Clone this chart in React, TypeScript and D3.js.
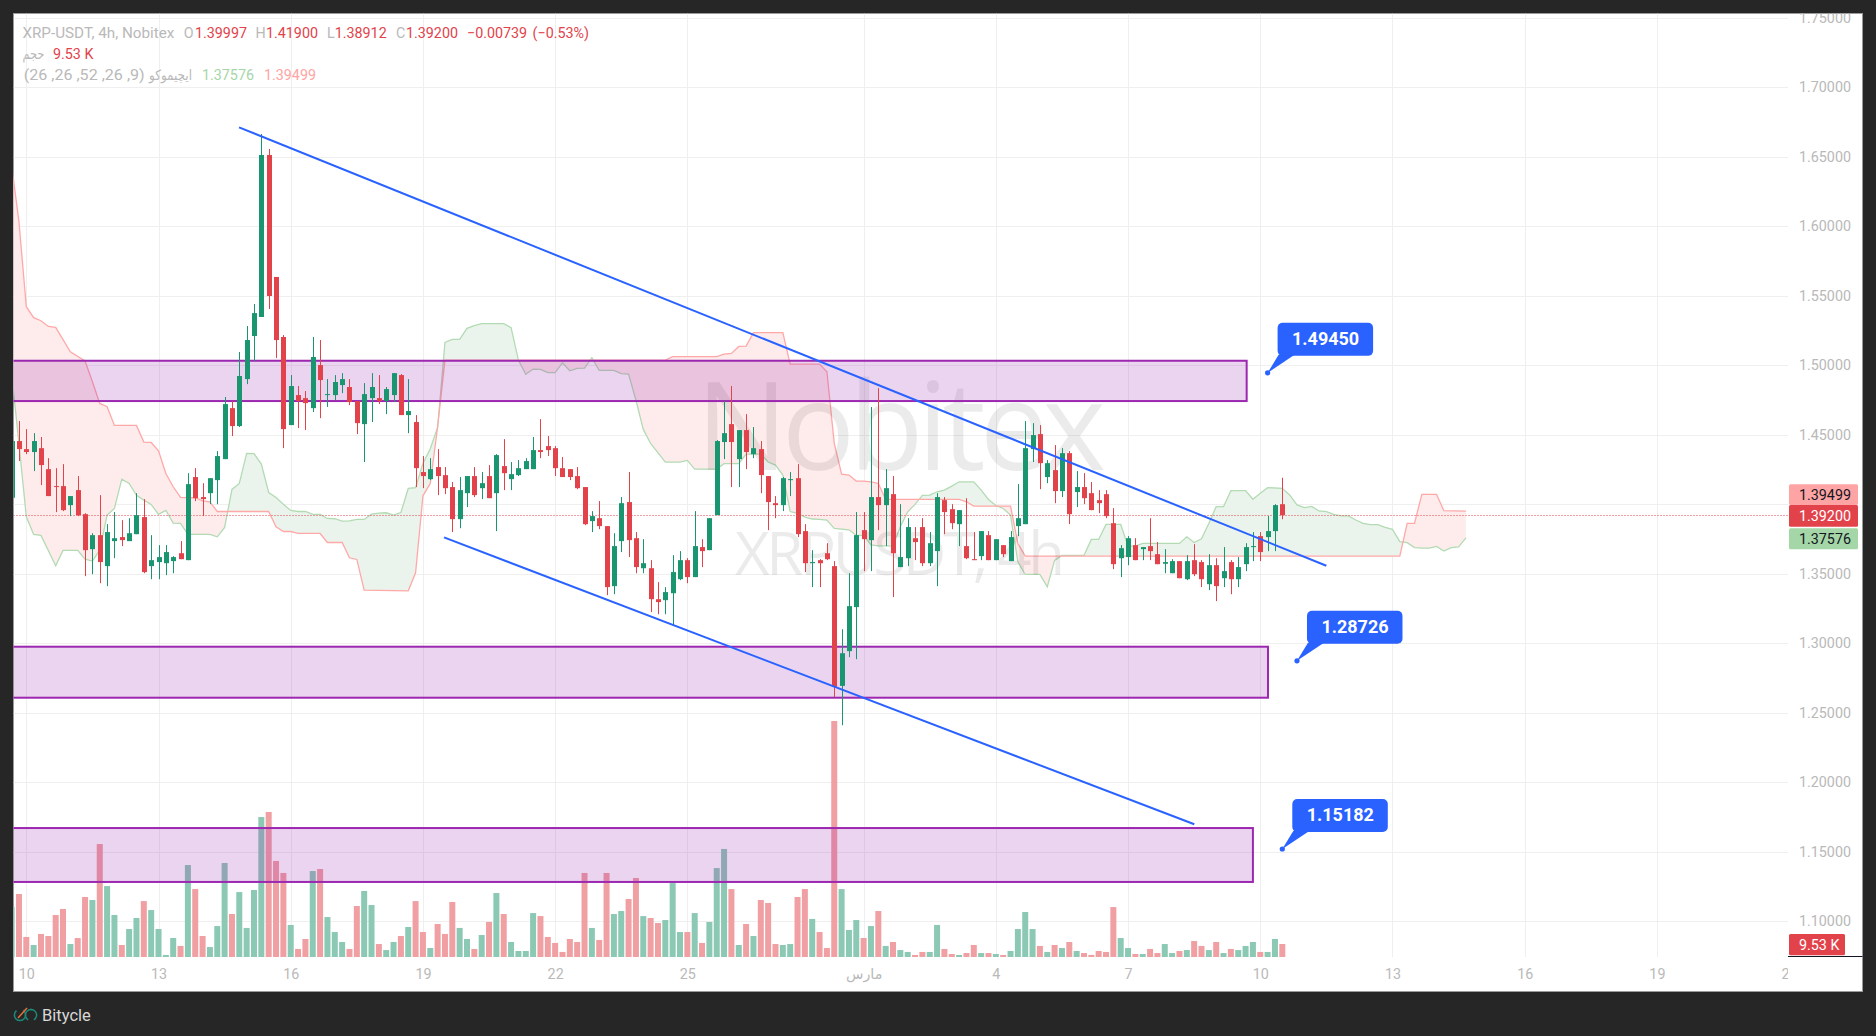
import * as React from 'react';
import { useEffect, useRef } from 'react';
import * as d3 from 'd3';

// candle index -2 is the partly hidden first bar, index 0 is Feb 10 00:00, one step is 4h
const firstIndex = -2;
const opens = [
  1.4046, 1.4454, 1.4396, 1.4375, 1.4403, 1.4252, 1.4130, 1.4130, 1.3993, 1.4101,
  1.3928, 1.3676, 1.3777, 1.3554, 1.3734, 1.3763, 1.3734, 1.3784, 1.3907, 1.3554,
  1.3583, 1.3575, 1.3590, 1.3647, 1.3597, 1.4195, 1.4051, 1.4079, 1.4173, 1.4324,
  1.4691, 1.4562, 1.4900, 1.5210, 1.5347, 1.6513, 1.5635, 1.5203, 1.4569, 1.4785,
  1.4763, 1.4691, 1.5001, 1.4785, 1.4785, 1.4857, 1.4843, 1.4742, 1.4576, 1.4763,
  1.4763, 1.4742, 1.4785, 1.4929, 1.4641, 1.4591, 1.4231, 1.4180, 1.4267, 1.4209,
  1.4123, 1.3892, 1.4079, 1.4202, 1.4115, 1.4202, 1.4079, 1.4274, 1.4180, 1.4209,
  1.4252, 1.4252, 1.4389, 1.4418, 1.4403, 1.4259, 1.4252, 1.4202, 1.4123, 1.3878,
  1.3899, 1.3842, 1.3410, 1.3734, 1.4015, 1.3755, 1.3539, 1.3539, 1.3316, 1.3309,
  1.3359, 1.3460, 1.3597, 1.3475, 1.3691, 1.3669, 1.3921, 1.4447, 1.4576, 1.4324,
  1.4533, 1.4360, 1.4396, 1.4202, 1.4007, 1.3993, 1.4173, 1.4187, 1.3806, 1.3575,
  1.3597, 1.3647, 1.3554, 1.2692, 1.2942, 1.3259, 1.3813, 1.3741, 1.4051, 1.3993,
  1.4072, 1.3547, 1.3611, 1.3755, 1.3835, 1.3575, 1.3662, 1.4029, 1.3964, 1.3856,
  1.3698, 1.3604, 1.3626, 1.3777, 1.3597, 1.3705, 1.3590, 1.3842, 1.3856, 1.4396,
  1.4504, 1.4195, 1.4245, 1.4094, 1.4367, 1.4087, 1.4123, 1.4079, 1.4029, 1.4072,
  1.3863, 1.3611, 1.3619, 1.3705, 1.3676, 1.3698, 1.3640, 1.3571, 1.3503, 1.3590,
  1.3460, 1.3597, 1.3583, 1.3424, 1.3561, 1.3467, 1.3583, 1.3460, 1.3568, 1.3691,
  1.3770, 1.3763, 1.3806, 1.39997,
];
const highs = [
  1.4454, 1.4598, 1.4540, 1.4511, 1.4483, 1.4331, 1.4259, 1.4288, 1.4058, 1.4202,
  1.3935, 1.3791, 1.4065, 1.3856, 1.3943, 1.3885, 1.3899, 1.4079, 1.4036, 1.3777,
  1.3705, 1.3705, 1.3626, 1.3734, 1.4223, 1.4259, 1.4151, 1.4187, 1.4382, 1.4771,
  1.4742, 1.5095, 1.5282, 1.5440, 1.6664, 1.6556, 1.5635, 1.5217, 1.4929, 1.4850,
  1.4814, 1.5203, 1.5181, 1.4900, 1.4929, 1.4943, 1.4900, 1.4742, 1.4871, 1.4943,
  1.4929, 1.4843, 1.4943, 1.4936, 1.4900, 1.4641, 1.4346, 1.4331, 1.4396, 1.4267,
  1.4159, 1.4195, 1.4202, 1.4267, 1.4231, 1.4281, 1.4360, 1.4468, 1.4303, 1.4317,
  1.4331, 1.4483, 1.4612, 1.4490, 1.4418, 1.4339, 1.4252, 1.4267, 1.4123, 1.3950,
  1.4022, 1.3842, 1.3791, 1.4051, 1.4231, 1.3799, 1.3748, 1.3597, 1.3439, 1.3403,
  1.3633, 1.3662, 1.3611, 1.3950, 1.3748, 1.3899, 1.4461, 1.4742, 1.4850, 1.4533,
  1.4648, 1.4555, 1.4454, 1.4202, 1.4058, 1.4195, 1.4231, 1.4288, 1.3856, 1.3669,
  1.3604, 1.3719, 1.3590, 1.3100, 1.3503, 1.3943, 1.3943, 1.4699, 1.4835, 1.4252,
  1.4202, 1.4000, 1.3899, 1.3835, 1.3899, 1.3799, 1.4079, 1.4051, 1.4000, 1.3957,
  1.4043, 1.3799, 1.3806, 1.3806, 1.3748, 1.3705, 1.3806, 1.4144, 1.4598, 1.4583,
  1.4569, 1.4317, 1.4425, 1.4403, 1.4382, 1.4238, 1.4223, 1.4159, 1.4101, 1.4101,
  1.3971, 1.3705, 1.3770, 1.3755, 1.3691, 1.3899, 1.3727, 1.3676, 1.3604, 1.3590,
  1.3633, 1.3712, 1.3597, 1.3640, 1.3611, 1.3691, 1.3597, 1.3619, 1.3719, 1.3799,
  1.3799, 1.3914, 1.4000, 1.41900,
];
const lows = [
  1.4046, 1.4310, 1.4360, 1.4238, 1.4137, 1.4058, 1.3943, 1.3950, 1.3914, 1.3914,
  1.3482, 1.3496, 1.3431, 1.3410, 1.3611, 1.3698, 1.3734, 1.3784, 1.3503, 1.3460,
  1.3460, 1.3489, 1.3503, 1.3604, 1.3597, 1.4022, 1.3914, 1.4000, 1.4000, 1.4324,
  1.4490, 1.4555, 1.4864, 1.5030, 1.5347, 1.5404, 1.5051, 1.4403, 1.4569, 1.4547,
  1.4533, 1.4663, 1.4619, 1.4699, 1.4749, 1.4799, 1.4713, 1.4504, 1.4303, 1.4591,
  1.4720, 1.4648, 1.4735, 1.4641, 1.4511, 1.4123, 1.4115, 1.4173, 1.4065, 1.4072,
  1.3799, 1.3827, 1.3979, 1.4051, 1.4036, 1.4043, 1.3806, 1.4101, 1.4101, 1.4202,
  1.4252, 1.4252, 1.4331, 1.4346, 1.4202, 1.4195, 1.4173, 1.4108, 1.3849, 1.3799,
  1.3820, 1.3345, 1.3352, 1.3655, 1.3619, 1.3503, 1.3503, 1.3223, 1.3208, 1.3208,
  1.3129, 1.3453, 1.3431, 1.3475, 1.3547, 1.3669, 1.3921, 1.4324, 1.4123, 1.4123,
  1.4252, 1.4331, 1.4079, 1.3813, 1.3899, 1.3950, 1.4058, 1.3763, 1.3511, 1.3403,
  1.3403, 1.3597, 1.2611, 1.2409, 1.2899, 1.2884, 1.3518, 1.3518, 1.3813, 1.3698,
  1.3331, 1.3547, 1.3554, 1.3597, 1.3554, 1.3554, 1.3410, 1.3784, 1.3820, 1.3698,
  1.3604, 1.3597, 1.3597, 1.3597, 1.3597, 1.3619, 1.3590, 1.3770, 1.3856, 1.4303,
  1.4108, 1.4151, 1.4007, 1.4051, 1.3856, 1.3979, 1.4000, 1.3957, 1.3935, 1.3899,
  1.3532, 1.3475, 1.3561, 1.3597, 1.3597, 1.3597, 1.3568, 1.3503, 1.3503, 1.3467,
  1.3453, 1.3482, 1.3403, 1.3381, 1.3302, 1.3403, 1.3352, 1.3403, 1.3518, 1.3590,
  1.3590, 1.3662, 1.3662, 1.38912,
];
const closes = [
  1.4454, 1.4396, 1.4375, 1.4454, 1.4281, 1.4058, 1.4125, 1.3957, 1.4058, 1.3921,
  1.3669, 1.3777, 1.3583, 1.3799, 1.3755, 1.3741, 1.3791, 1.3921, 1.3511, 1.3597,
  1.3619, 1.3655, 1.3619, 1.3604, 1.4144, 1.4043, 1.4036, 1.4187, 1.4346, 1.4720,
  1.4562, 1.4922, 1.5181, 1.5375, 1.6513, 1.5498, 1.5181, 1.4540, 1.4850, 1.4742,
  1.4727, 1.5059, 1.4893, 1.4792, 1.4879, 1.4900, 1.4735, 1.4583, 1.4792, 1.4843,
  1.4742, 1.4828, 1.4943, 1.4641, 1.4670, 1.4259, 1.4202, 1.4252, 1.4202, 1.4115,
  1.3892, 1.4101, 1.4202, 1.4065, 1.4151, 1.4043, 1.4353, 1.4223, 1.4216, 1.4259,
  1.4310, 1.4389, 1.4375, 1.4389, 1.4259, 1.4195, 1.4195, 1.4115, 1.3856, 1.3914,
  1.3842, 1.3403, 1.3698, 1.4007, 1.3741, 1.3547, 1.3575, 1.3316, 1.3295, 1.3367,
  1.3511, 1.3597, 1.3475, 1.3698, 1.3662, 1.3899, 1.4454, 1.4511, 1.4447, 1.4533,
  1.4375, 1.4403, 1.4209, 1.4015, 1.3993, 1.4187, 1.4180, 1.3784, 1.3575, 1.3583,
  1.3575, 1.3604, 1.2685, 1.2927, 1.3266, 1.3777, 1.3748, 1.4051, 1.3993, 1.4115,
  1.3647, 1.3619, 1.3835, 1.3727, 1.3575, 1.3719, 1.4051, 1.3943, 1.3863, 1.3957,
  1.3611, 1.3597, 1.3806, 1.3597, 1.3748, 1.3640, 1.3763, 1.3899, 1.4403, 1.4497,
  1.4295, 1.4295, 1.4094, 1.4367, 1.3928, 1.4123, 1.4043, 1.3957, 1.4007, 1.3914,
  1.3568, 1.3683, 1.3755, 1.3597, 1.3691, 1.3662, 1.3568, 1.3583, 1.3590, 1.3467,
  1.3590, 1.3496, 1.3460, 1.3561, 1.3410, 1.3518, 1.3460, 1.3547, 1.3691, 1.3698,
  1.3655, 1.3806, 1.3993, 1.39200,
];
// thousands
const volumes = [
  36.6, 46.2, 14.7, 8.8, 16.9, 15.4, 30.8, 35.2, 9.5, 13.9,
  44.0, 41.8, 82.8, 52.0, 30.8, 8.8, 20.5, 28.6, 41.0, 34.4,
  20.5, 1.5, 13.9, 8.1, 67.4, 49.8, 15.4, 7.3, 22.7, 68.9,
  31.5, 47.6, 21.3, 49.1, 102.6, 106.3, 70.4, 61.6, 23.5, 5.9,
  13.2, 63.0, 64.5, 29.3, 18.3, 11.0, 5.9, 37.4, 48.4, 38.1,
  9.5, 5.1, 11.0, 15.4, 22.0, 41.0, 18.3, 6.6, 24.2, 16.9,
  40.3, 21.3, 13.2, 5.9, 16.1, 25.7, 46.9, 31.5, 11.0, 4.4,
  4.4, 32.2, 30.0, 14.7, 10.3, 3.7, 13.2, 11.0, 61.6, 21.3,
  12.5, 61.6, 31.5, 33.7, 42.5, 57.9, 30.0, 28.6, 24.9, 27.1,
  54.2, 18.3, 18.3, 32.2, 10.3, 25.7, 65.2, 79.2, 49.8, 8.8,
  24.2, 15.4, 41.8, 39.6, 9.5, 8.8, 9.5, 44.0, 49.8, 27.9,
  18.3, 6.6, 173.0, 49.8, 19.8, 27.1, 13.9, 22.7, 33.7, 8.1,
  11.0, 5.1, 3.7, 1.5, 3.7, 3.7, 23.5, 5.9, 2.2, 1.5,
  2.9, 8.8, 2.9, 2.9, 2.2, 1.5, 4.4, 20.5, 33.0, 20.5,
  8.1, 3.7, 8.8, 6.6, 11.0, 4.4, 2.9, 1.5, 4.4, 3.7,
  36.6, 13.9, 6.6, 2.2, 2.2, 5.9, 2.9, 9.5, 2.9, 4.4,
  5.1, 11.7, 8.1, 5.1, 11.0, 2.9, 5.9, 5.1, 8.1, 11.0,
  3.7, 3.7, 13.2, 9.53,
];

// ichimoku leading spans, corner points
const spanAIndex = [
  -2, -1, 0, 1, 2, 4, 5, 7, 8, 9, 10, 11, 12, 13, 14, 15, 16, 17, 18, 19, 20, 21, 22, 25, 26, 27, 28, 29, 30, 31,
  32, 33, 34, 35, 36, 37, 38, 39, 40, 41, 42, 43, 44, 45, 46, 47, 48, 49, 50, 51, 52, 53, 54, 55, 56, 57, 58, 59, 60, 61,
  62, 65, 66, 67, 68, 69, 70, 71, 72, 73, 74, 75, 76, 77, 78, 80, 81, 82, 83, 84, 85, 87, 89, 90, 91, 94, 95, 97, 98, 100,
  101, 102, 103, 104, 105, 106, 107, 108, 109, 110, 112, 113, 114, 115, 116, 118, 119, 120, 121, 122, 123, 124, 125, 126, 127, 129, 130, 131, 132, 133,
  134, 135, 136, 138, 139, 140, 141, 144, 145, 146, 147, 149, 150, 151, 152, 157, 158, 159, 160, 161, 162, 163, 164, 166, 167, 168, 169, 171, 172, 173,
  174, 175, 176, 177, 178, 179, 180, 181, 182, 183, 184, 185, 186, 187, 188, 189, 190, 191, 192, 193, 194, 195, 196,
];
const spanAValues = [
  1.4941, 1.4437, 1.3909, 1.3782, 1.3775, 1.3556, 1.3667, 1.3667, 1.3604, 1.3590, 1.3669, 1.3921, 1.3969, 1.4180, 1.4149, 1.4063, 1.4029, 1.3998, 1.3926, 1.3955, 1.3863, 1.3861, 1.3782, 1.3782, 1.3765, 1.3832, 1.4106, 1.4149, 1.4365, 1.4363,
  1.4288, 1.4084, 1.4048, 1.4000, 1.3955, 1.3947, 1.3947, 1.3926, 1.3926, 1.3897, 1.3895, 1.3878, 1.3880, 1.3890, 1.3890, 1.3928, 1.3935, 1.3938, 1.3921, 1.3940, 1.4113, 1.4118, 1.4293, 1.4399, 1.4552, 1.5164, 1.5186, 1.5186, 1.5265, 1.5284,
  1.5299, 1.5299, 1.5270, 1.5037, 1.4934, 1.4972, 1.4970, 1.4946, 1.4946, 1.5018, 1.4960, 1.4977, 1.4979, 1.5054, 1.4963, 1.4963, 1.4939, 1.4936, 1.4749, 1.4538, 1.4437, 1.4303, 1.4303, 1.4315, 1.4252, 1.4252, 1.4291, 1.4291, 1.4360, 1.4360,
  1.4303, 1.4281, 1.4209, 1.3947, 1.3933, 1.3907, 1.3893, 1.3890, 1.3885, 1.3825, 1.3815, 1.3775, 1.3775, 1.3707, 1.3700, 1.3700, 1.3837, 1.3945, 1.3998, 1.4063, 1.4065, 1.4089, 1.4101, 1.4130, 1.4161, 1.4161, 1.4101, 1.4034, 1.3991, 1.3969,
  1.3921, 1.3585, 1.3494, 1.3494, 1.3405, 1.3595, 1.3631, 1.3631, 1.3746, 1.3746, 1.3854, 1.3854, 1.3698, 1.3698, 1.3717, 1.3717, 1.3765, 1.3724, 1.3751, 1.3861, 1.3982, 1.3982, 1.4097, 1.4097, 1.4035, 1.4078, 1.4119, 1.4114, 1.4066, 1.3994,
  1.3975, 1.3984, 1.3951, 1.3946, 1.3927, 1.3915, 1.3915, 1.3886, 1.3862, 1.3852, 1.3852, 1.3833, 1.3819, 1.3730, 1.3723, 1.3687, 1.3684, 1.3684, 1.3696, 1.3663, 1.3687, 1.3692, 1.37576,
];
const spanBIndex = [
  -2, -1, 0, 1, 2, 3, 4, 6, 8, 9, 10, 11, 12, 15, 16, 17, 18, 19, 20, 21, 23, 24, 25, 26, 33, 34, 35, 36, 37, 40,
  41, 43, 44, 45, 46, 52, 53, 54, 55, 56, 57, 87, 88, 94, 95, 96, 97, 98, 99, 103, 104, 108, 109, 110, 111, 112, 113, 114, 115, 116,
  117, 127, 128, 129, 134, 135, 136, 187, 188, 189, 190, 192, 193, 196,
];
const spanBValues = [
  1.6441, 1.6033, 1.5421, 1.5342, 1.5320, 1.5279, 1.5272, 1.5097, 1.5030, 1.4881, 1.4725, 1.4701, 1.4567, 1.4567, 1.4447, 1.4444, 1.4384, 1.4221, 1.4125, 1.4048, 1.4046, 1.4024, 1.4017, 1.3947, 1.3947, 1.3837, 1.3803, 1.3803, 1.3789, 1.3789,
  1.3724, 1.3724, 1.3614, 1.3602, 1.3381, 1.3376, 1.3506, 1.4060, 1.4149, 1.4557, 1.5037, 1.5037, 1.5061, 1.5061, 1.5080, 1.5085, 1.5135, 1.5138, 1.5234, 1.5234, 1.5008, 1.5008, 1.4953, 1.4437, 1.4216, 1.4209, 1.4166, 1.4166, 1.4161, 1.4149,
  1.4034, 1.4034, 1.4017, 1.3986, 1.3986, 1.3717, 1.3626, 1.3626, 1.3862, 1.3862, 1.4071, 1.4071, 1.3953, 1.39499,
];

// drawings on the chart
const zoneTops = [1.5032, 1.2974, 1.1669];
const zoneBottoms = [1.4742, 1.2607, 1.1281];
const zoneEnds = [166.15, 169.05, 167.0];
const trendStartIndex = [28.96, 56.87];
const trendStartPrice = [1.6712, 1.3761];
const trendEndIndex = [177.0, 159.02];
const trendEndPrice = [1.3557, 1.1696];
const calloutPrices = [1.4945, 1.28726, 1.15182];
const calloutIndex = [169, 173, 171];

// axes
const gridPrices = d3.range(1.1, 1.7501, 0.05);
const labelPrices = [1.1, 1.15, 1.2, 1.25, 1.3, 1.35, 1.45, 1.5, 1.55, 1.6, 1.65, 1.7, 1.75];
const timeTickIndex = [0, 18, 36, 54, 72, 90, 114, 132, 150, 168, 186, 204, 222, 240];
const timeTickLabels = ['10', '13', '16', '19', '22', '25', 'مارس', '4', '7', '10', '13', '16', '19', '22'];

const UP = '#19956f';
const DOWN = '#e2434b';
const FONT = "Roboto, 'DejaVu Sans', sans-serif";

export default function App() {
  const ref = useRef<SVGSVGElement>(null);

  useEffect(() => {
    const svg = d3.select(ref.current);
    svg.selectAll('*').remove();

    const left = 13.5;
    const right = 1788;
    const top = 13.5;
    const volBase = 957;
    const paneRight = 1862.5;
    const paneBottom = 991.5;

    const x = d3.scaleLinear().domain([0, 171]).range([26.3, 26.3 + 171 * 7.345]);
    const y = d3.scaleLinear().domain([1.1, 1.7]).range([921, 87.3]);
    const yVol = d3.scaleLinear().domain([0, 173]).range([volBase, 721]);

    svg.append('rect').attr('width', 1876).attr('height', 1036).attr('fill', '#262626');
    svg.append('rect')
      .attr('x', left).attr('y', top)
      .attr('width', paneRight - left).attr('height', paneBottom - top)
      .attr('fill', '#fff').attr('stroke', '#9a9a9a');

    const defs = svg.append('defs');
    defs.append('clipPath').attr('id', 'plot').append('rect')
      .attr('x', left).attr('y', top).attr('width', right - left).attr('height', volBase - top);
    defs.append('clipPath').attr('id', 'pane').append('rect')
      .attr('x', left).attr('y', top).attr('width', paneRight - left).attr('height', paneBottom - top);
    defs.append('clipPath').attr('id', 'timeaxisLocal').append('rect')
      .attr('x', left).attr('y', 0).attr('width', right - left).attr('height', paneBottom - volBase);

    const plot = svg.append('g').attr('clip-path', 'url(#plot)');

    // grid
    plot.selectAll('line.h').data(gridPrices).join('line')
      .attr('x1', left).attr('x2', right)
      .attr('y1', (d) => Math.round(y(d)) + 0.5).attr('y2', (d) => Math.round(y(d)) + 0.5)
      .attr('stroke', '#efefef');
    plot.selectAll('line.v').data(timeTickIndex).join('line')
      .attr('x1', (d) => Math.round(x(d)) + 0.5).attr('x2', (d) => Math.round(x(d)) + 0.5)
      .attr('y1', top).attr('y2', volBase)
      .attr('stroke', '#efefef');

    // volume
    const isUp = (i: number) => closes[i] >= opens[i];
    plot.selectAll('rect.vol').data(volumes).join('rect')
      .attr('x', (_, i) => x(i + firstIndex) - 3)
      .attr('width', 6)
      .attr('y', (d) => yVol(d))
      .attr('height', (d) => volBase - yVol(d))
      .attr('fill', (_, i) => (isUp(i) ? '#8cc9b4' : '#f09fa3'));

    // ichimoku cloud
    const spanA = spanAIndex.map((k, i) => [k, spanAValues[i]] as [number, number]);
    const spanB = spanBIndex.map((k, i) => [k, spanBValues[i]] as [number, number]);
    const lineGen = d3.line<[number, number]>().x((d) => x(d[0])).y((d) => y(d[1]));
    const above = d3.area<[number, number]>().x((d) => x(d[0])).y0(0).y1((d) => y(d[1]));
    const below = d3.area<[number, number]>().x((d) => x(d[0])).y0(1036).y1((d) => y(d[1]));
    defs.append('clipPath').attr('id', 'aboveB').append('path').attr('d', above(spanB));
    defs.append('clipPath').attr('id', 'belowB').append('path').attr('d', below(spanB));
    const polygon = lineGen([...spanA, ...spanB.slice().reverse()]) + 'Z';
    plot.append('path').attr('d', polygon).attr('fill', '#ebf4ec').attr('clip-path', 'url(#aboveB)');
    plot.append('path').attr('d', polygon).attr('fill', '#feebeb').attr('clip-path', 'url(#belowB)');
    plot.append('path').attr('d', lineGen(spanA)).attr('fill', 'none').attr('stroke', '#b2dbb3').attr('stroke-width', 1.3);
    plot.append('path').attr('d', lineGen(spanB)).attr('fill', 'none').attr('stroke', '#ffa8a8').attr('stroke-width', 1.3);

    // watermark sits over the cloud
    plot.append('text')
      .attr('x', 696).attr('y', 470)
      .attr('textLength', 410)
      .attr('font-family', "'Open Sans', sans-serif").attr('font-size', 122)
      .attr('fill', '#000').attr('fill-opacity', 0.08)
      .text('Nobitex');
    plot.append('text')
      .attr('x', 735).attr('y', 575)
      .attr('textLength', 330)
      .attr('font-family', "'Open Sans', sans-serif").attr('font-size', 60)
      .attr('fill', '#000').attr('fill-opacity', 0.08)
      .text('XRPUSDT, 4h');

    // zones
    zoneTops.forEach((t, i) => {
      plot.append('rect')
        .attr('x', left - 20)
        .attr('y', y(t))
        .attr('width', x(zoneEnds[i]) - left + 20)
        .attr('height', y(zoneBottoms[i]) - y(t))
        .attr('fill', '#9c27b0').attr('fill-opacity', 0.2)
        .attr('stroke', '#9c27b0').attr('stroke-width', 2);
    });

    // current price line
    const lastY = Math.floor(y(closes[closes.length - 1])) + 0.5;
    plot.append('line')
      .attr('x1', left).attr('x2', right)
      .attr('y1', lastY).attr('y2', lastY)
      .attr('stroke', DOWN).attr('stroke-width', 1).attr('stroke-dasharray', '1 2');

    // candles
    const candles = plot.selectAll('g.candle').data(opens).join('g');
    candles.append('line')
      .attr('x1', (_, i) => Math.round(x(i + firstIndex)) + 0.5)
      .attr('x2', (_, i) => Math.round(x(i + firstIndex)) + 0.5)
      .attr('y1', (_, i) => y(highs[i]))
      .attr('y2', (_, i) => y(lows[i]))
      .attr('stroke', (_, i) => (isUp(i) ? UP : DOWN));
    candles.append('rect')
      .attr('x', (_, i) => Math.round(x(i + firstIndex)) - 2)
      .attr('width', 5)
      .attr('y', (_, i) => y(Math.max(opens[i], closes[i])))
      .attr('height', (_, i) => Math.max(1, Math.abs(y(opens[i]) - y(closes[i]))))
      .attr('fill', (_, i) => (isUp(i) ? UP : DOWN));

    // trend lines
    trendStartIndex.forEach((k, i) => {
      plot.append('line')
        .attr('x1', x(k)).attr('y1', y(trendStartPrice[i]))
        .attr('x2', x(trendEndIndex[i])).attr('y2', y(trendEndPrice[i]))
        .attr('stroke', '#2962ff').attr('stroke-width', 2);
    });

    // callouts
    calloutPrices.forEach((p, i) => {
      const cx = x(calloutIndex[i]);
      const cy = y(p);
      const g = plot.append('g').attr('transform', `translate(${cx},${cy})`);
      g.append('circle').attr('r', 2.6).attr('fill', '#2962ff');
      g.append('path').attr('d', 'M0,0L11,-18L27,-18Z').attr('fill', '#2962ff');
      g.append('rect')
        .attr('x', 10).attr('y', -50).attr('width', 95.5).attr('height', 33).attr('rx', 5)
        .attr('fill', '#2962ff');
      g.append('text')
        .attr('x', 58).attr('y', -27.5)
        .attr('text-anchor', 'middle')
        .attr('font-family', FONT).attr('font-size', 18).attr('font-weight', 700)
        .attr('fill', '#fff')
        .text(d3.format('.5f')(p));
    });

    // price axis
    const priceAxis = svg.append('g')
      .attr('transform', `translate(${right},0)`)
      .attr('clip-path', 'url(#paneLocal)')
      .call(d3.axisRight(y).tickValues(labelPrices).tickFormat(d3.format('.5f') as any).tickSize(0).tickPadding(11));
    priceAxis.select('.domain').remove();
    priceAxis.selectAll('text').attr('fill', '#b9b9b9').attr('font-family', FONT).attr('font-size', 14.3);
    defs.append('clipPath').attr('id', 'paneLocal').append('rect')
      .attr('x', 0).attr('y', top).attr('width', paneRight - right).attr('height', paneBottom - top);

    // time axis
    const timeAxis = svg.append('g')
      .attr('transform', `translate(0,${volBase})`)
      .attr('clip-path', 'url(#timeaxisLocal)')
      .call(d3.axisBottom(x).tickValues(timeTickIndex).tickFormat((_, i) => timeTickLabels[i]).tickSize(0).tickPadding(12));
    timeAxis.select('.domain').remove();
    timeAxis.selectAll('text').attr('fill', '#b9b9b9').attr('font-family', FONT).attr('font-size', 14.3);

    // tags on the price scale
    const tag = (ty: number, h: number, w: number, bg: string, fg: string, label: string) => {
      svg.append('rect').attr('x', 1789).attr('y', ty).attr('width', w).attr('height', h).attr('rx', 1.5).attr('fill', bg);
      svg.append('text')
        .attr('x', 1799).attr('y', ty + h / 2 + 5)
        .attr('font-family', FONT).attr('font-size', 14.3)
        .attr('fill', fg)
        .text(label);
    };
    tag(484.3, 20.7, 69, '#ffa4a4', '#131722', '1.39499');
    tag(528.3, 21, 69, '#a5d6a7', '#131722', '1.37576');
    tag(505, 21.7, 69, DOWN, '#fff', '1.39200');
    tag(934, 21.3, 56, DOWN, '#fff', '9.53 K');
    svg.append('line').attr('x1', right).attr('x2', paneRight).attr('y1', 956.5).attr('y2', 956.5).attr('stroke', '#131722');

    // legend, width keeps the long strings on the same span as the picture
    const legend = (lx: number, ly: number, fill: string, label: string, width?: number) => {
      const t = svg.append('text')
        .attr('x', lx).attr('y', ly)
        .attr('font-family', FONT).attr('font-size', 14.3)
        .attr('fill', fill)
        .text(label);
      if (width) t.attr('textLength', width).attr('lengthAdjust', 'spacingAndGlyphs');
    };
    const grey = '#b9b9b9';
    legend(22.4, 38, grey, 'XRP-USDT, 4h, Nobitex', 152);
    legend(183.7, 38, grey, 'O');
    legend(195, 38, DOWN, '1.39997');
    legend(255.5, 38, grey, 'H');
    legend(266, 38, DOWN, '1.41900');
    legend(327, 38, grey, 'L');
    legend(334.7, 38, DOWN, '1.38912');
    legend(396, 38, grey, 'C');
    legend(406, 38, DOWN, '1.39200');
    legend(467, 38, DOWN, '−0.00739');
    legend(532.6, 38, DOWN, '(−0.53%)');
    legend(22.4, 59, grey, 'حجم', 22);
    legend(53, 59, DOWN, '9.53 K');
    legend(23.7, 80, grey, '(26 ,26 ,52 ,26 ,9)', 121);
    legend(149, 80, grey, 'ایچیموکو', 43);
    legend(202, 80, '#a5d6a7', '1.37576');
    legend(264, 80, '#ffa4a4', '1.39499');

    // bottom strip
    const logo = svg.append('g').attr('fill', 'none').attr('stroke-width', 1.5);
    logo.append('path').attr('d', d3.arc()({ innerRadius: 5.6, outerRadius: 5.6, startAngle: 0.6, endAngle: 5.6 }) as string)
      .attr('transform', 'translate(20,1015)').attr('stroke', '#1b8a78');
    logo.append('path').attr('d', d3.arc()({ innerRadius: 5.6, outerRadius: 5.6, startAngle: -2.6, endAngle: 2.6 }) as string)
      .attr('transform', 'translate(31,1015)').attr('stroke', '#1b8a78');
    logo.append('line').attr('x1', 18).attr('y1', 1018).attr('x2', 27).attr('y2', 1008).attr('stroke', '#e2703a');
    svg.append('text')
      .attr('x', 42).attr('y', 1021)
      .attr('font-family', FONT).attr('font-size', 16.5)
      .attr('fill', '#d8d8d8')
      .text('Bitycle');
  }, []);

  return (
    <svg
      ref={ref}
      width={1876}
      height={1036}
      style={{ position: 'absolute', left: 0, top: 0, display: 'block' }}
    />
  );
}
